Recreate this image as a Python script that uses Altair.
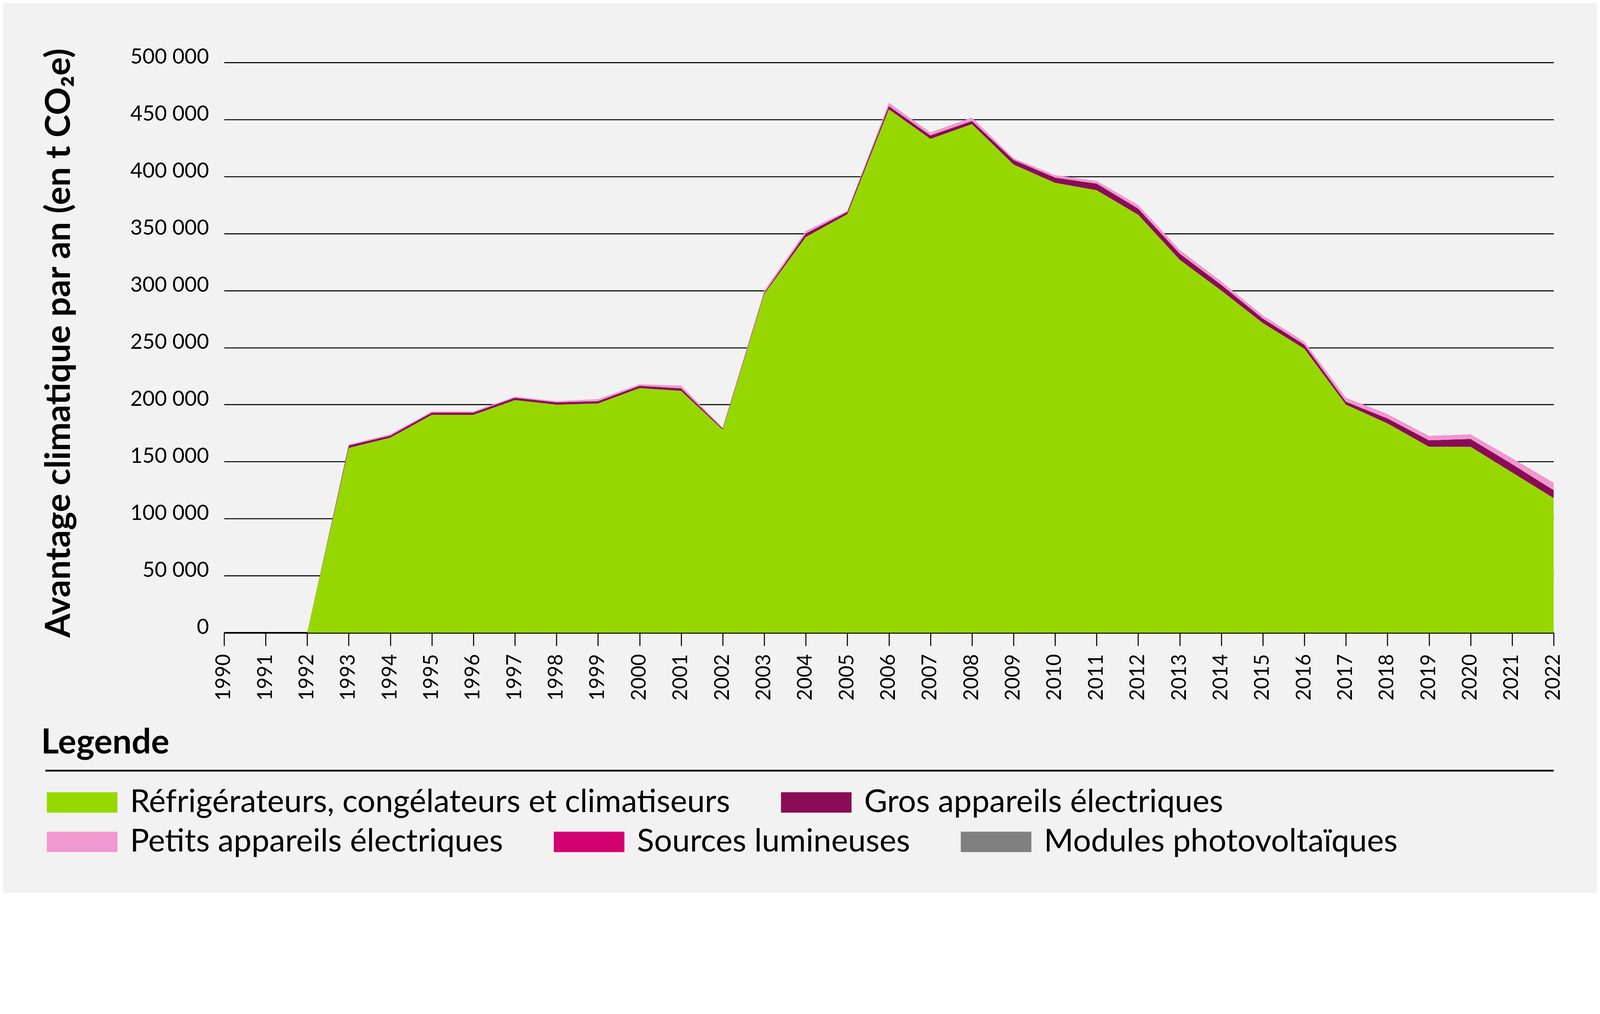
import pandas as pd
import altair as alt

# values in thousand t CO2e
years = [1992, 1993, 1994, 1995, 1996, 1997, 1998, 1999, 2000, 2001, 2002,
         2003, 2004, 2005, 2006, 2007, 2008, 2009, 2010, 2011, 2012,
         2013, 2014, 2015, 2016, 2017, 2018, 2019, 2020, 2021, 2022]
refrigerateurs = [0, 162, 171, 191, 191, 204, 200, 201, 214.5, 212, 178,
                  297, 347, 367, 459, 433, 446, 410.5, 394.5, 388, 366.5,
                  327, 300, 271.5, 249, 200, 183.5, 163, 163, 140.5, 118]
gros_appareils = [0, 2.1, 1.8, 2, 2, 2, 2, 2, 2, 2.2, 1,
                  1, 3, 2, 2.7, 3, 2.7, 4, 4.5, 5.8, 5.4,
                  5.4, 5, 4, 3.5, 2.5, 4.4, 5.7, 6.9, 7.3, 6.9]
sources_lumineuses = [0, 0, 0, 0, 0, 0, 0, 0, 0, 0, 0,
                      0, 0, 0, 0, 0, 0, 0, 0, 0, 0,
                      0, 0, 0, 0, 0, 0, 0, 0, 0, 0]
petits_appareils = [0, 0.8, 1.2, 1, 1, 1, 1, 1.8, 1.3, 2.4, 0.7,
                    2, 2.3, 1, 3, 2.7, 3, 1.6, 2.3, 2.3, 3.2,
                    3.2, 3, 2.7, 2.7, 3.5, 3.8, 3.8, 4, 5.2, 6.6]
modules_pv = [0, 0, 0, 0, 0, 0, 0, 0, 0, 0, 0,
              0, 0, 0, 0, 0, 0, 0, 0, 0, 0,
              0, 0, 0, 0, 0, 0, 0, 0, 0, 0]

cat_refr = "Réfrigérateurs, congélateurs et climatiseurs"
cat_gros = "Gros appareils électriques"
cat_petits = "Petits appareils électriques"
cat_sources = "Sources lumineuses"
cat_pv = "Modules photovoltaïques"

series = [
    (cat_refr, refrigerateurs),
    (cat_gros, gros_appareils),
    (cat_petits, petits_appareils),
    (cat_sources, sources_lumineuses),
    (cat_pv, modules_pv),
]
colors = {
    cat_refr: "#97d700",
    cat_gros: "#8a0c57",
    cat_petits: "#f098d0",
    cat_sources: "#d20070",
    cat_pv: "#808080",
}

rows = []
for order, (cat, vals) in enumerate(series):
    for yr, v in zip(years, vals):
        rows.append({"year": yr, "cat": cat, "value": v * 1000, "order": order})
df = pd.DataFrame(rows)

FONT = "Lato"
swatch = "M-1,-1H5.92V1H-1Z"

x_enc = alt.X(
    "year:Q",
    title=None,
    scale=alt.Scale(domain=[1990, 2022], nice=False, zero=False),
    axis=alt.Axis(
        values=list(range(1990, 2023)), format="d", grid=False,
        domainColor="black", domainWidth=5, tickColor="black", tickWidth=3,
        tickSize=38, labelAngle=270, labelAlign="left", labelBaseline="middle",
        labelPadding=158, labelFont=FONT, labelFontSize=58, labelColor="black",
        labelOverlap=False, labelFlush=False,
    ),
)
y_enc = alt.Y(
    "y1:Q",
    title="Avantage climatique par an (en t CO₂e)",
    scale=alt.Scale(domain=[0, 500000], nice=False),
    axis=alt.Axis(
        values=list(range(0, 500001, 50000)),
        labelExpr="replace(format(datum.value, ','), ',', ' ')",
        domain=False, ticks=False, grid=True, gridColor="black", gridWidth=3,
        labelPadding=44, labelOffset=-15, labelFont=FONT, labelFontSize=61,
        labelColor="black", labelLimit=1000, titleLimit=3000,
        titleFont=FONT, titleFontWeight="bold",
        titleFontSize=100, titleColor="black", titleAngle=270,
        titleBaseline="middle", titleAlign="center", titleX=-476, titleY=811,
    ),
)

base = alt.Chart(df).transform_stack(
    stack="value", groupby=["year"], as_=["y0", "y1"],
    sort=[alt.SortField("order", order="ascending")],
)

legend_common = dict(
    orient="none", direction="horizontal", symbolType=swatch, symbolSize=3481,
    symbolStrokeWidth=0, labelOffset=165, columnPadding=130, labelLimit=4000,
    labelFont=FONT, labelFontSize=92, labelColor="black", padding=0,
    legendX=-529,
)

top_cats = [cat_refr, cat_gros]
low_cats = [cat_petits, cat_sources, cat_pv]

area_top = base.transform_filter(
    alt.FieldOneOfPredicate(field="cat", oneOf=top_cats)
).mark_area().encode(
    x=x_enc, y=y_enc, y2="y0:Q",
    color=alt.Color(
        "cat:N", title="Legende",
        scale=alt.Scale(domain=top_cats, range=[colors[c] for c in top_cats]),
        legend=alt.Legend(
            legendY=1920, titleFont=FONT, titleFontWeight="bold",
            titleFontSize=99, titleColor="black", titlePadding=75,
            titleLimit=3000, **legend_common,
        ),
    ),
)

area_low = base.transform_filter(
    alt.FieldOneOfPredicate(field="cat", oneOf=low_cats)
).mark_area().encode(
    x=x_enc, y=y_enc, y2="y0:Q",
    color=alt.Color(
        "cat:N", title=None,
        scale=alt.Scale(domain=low_cats, range=[colors[c] for c in low_cats]),
        legend=alt.Legend(legendY=2208, **legend_common),
    ),
)

# separator line under "Legende"
rule = alt.Chart(pd.DataFrame({"sep": [0]})).mark_rule(
    color="black", strokeWidth=5
).encode(x=alt.value(-517), x2=alt.value(3845), y=alt.value(2048))

chart = alt.layer(area_top, area_low, rule).resolve_scale(
    color="independent"
).properties(
    width=3845, height=1649,
    padding={"left": 639, "top": 24, "right": 125, "bottom": 605},
    autosize=alt.AutoSizeParams(type="none"),
).configure(background="#f2f2f2", font=FONT).configure_view(strokeWidth=0)

chart.save("out.html", embed_options={"renderer": "svg", "actions": False})
